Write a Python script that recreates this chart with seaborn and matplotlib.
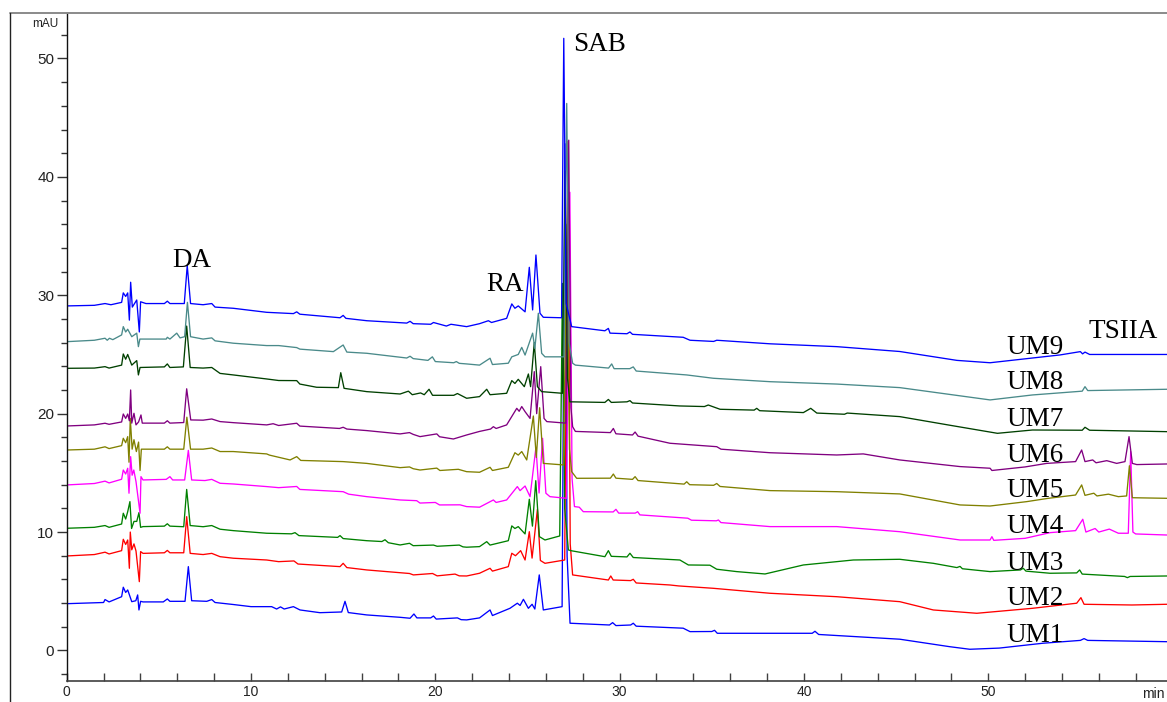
import matplotlib
matplotlib.use("Agg")
import matplotlib.pyplot as plt
from matplotlib import font_manager
from matplotlib.lines import Line2D
from matplotlib.ticker import MultipleLocator
import pandas as pd
import seaborn as sns

# HPLC chromatograms (time in min, absorbance in mAU), one list of (t, mAU) per sample
um9_trace = [(0.0, 29.1), (1.5, 29.15), (2.08, 29.3), (2.4, 29.2), (2.98, 29.4), (3.07, 30.2), (3.2, 29.9),
             (3.31, 30.2), (3.40, 27.9), (3.47, 31.1), (3.56, 29.0), (3.80, 29.6), (3.94, 26.9), (4.01, 29.45),
             (4.3, 29.3), (5.3, 29.3), (5.46, 29.5), (5.6, 29.3), (6.38, 29.3), (6.54, 32.5), (6.72, 29.3),
             (7.4, 29.2), (7.87, 29.3), (8.05, 29.0), (9.04, 28.9), (10.85, 28.56), (12.3, 28.45), (12.48, 28.6),
             (12.65, 28.4), (14.83, 28.1), (15.0, 28.3), (15.15, 28.05), (16.28, 27.85), (18.45, 27.65),
             (18.63, 27.8), (18.8, 27.6), (19.75, 27.55), (19.9, 27.7), (20.6, 27.4), (20.85, 27.55), (21.7, 27.35),
             (22.4, 27.6), (22.88, 27.85), (23.05, 27.7), (23.87, 28.05), (24.15, 29.27), (24.32, 28.9),
             (24.5, 29.1), (24.87, 28.6), (25.1, 32.36), (25.28, 28.76), (25.46, 33.4), (25.68, 28.48),
             (25.86, 28.14), (26.85, 28.1), (26.97, 51.7), (27.1, 29.3), (27.4, 27.35), (29.2, 27.0),
             (29.39, 27.2), (29.48, 26.8), (30.4, 26.75), (30.56, 26.9), (30.7, 26.7), (33.45, 26.45),
             (33.82, 26.2), (35.1, 26.1), (35.27, 26.2), (38.16, 25.9), (41.78, 25.66), (45.2, 25.25),
             (48.3, 24.5), (50.1, 24.3), (52.4, 24.7), (53.9, 24.96), (55.0, 25.24), (55.12, 25.05),
             (55.25, 25.2), (55.5, 25.0), (59.7, 25.0)]

um8_trace = [(0.0, 26.08), (1.5, 26.2), (2.08, 26.37), (2.2, 26.2), (2.32, 26.37), (2.5, 26.25), (2.98, 26.65),
             (3.07, 27.35), (3.2, 26.9), (3.31, 27.13), (3.53, 26.5), (3.8, 26.8), (3.89, 25.66), (3.97, 26.3),
             (5.4, 26.3), (5.46, 26.45), (5.6, 26.3), (5.97, 26.8), (6.15, 26.4), (6.4, 26.5), (6.55, 29.4),
             (6.72, 26.5), (7.4, 26.3), (7.87, 26.4), (8.05, 26.15), (9.04, 25.95), (10.85, 25.75), (11.5, 25.75),
             (12.48, 25.58), (12.65, 25.45), (14.47, 25.24), (15.0, 25.8), (15.2, 25.2), (16.28, 25.1),
             (18.45, 24.7), (18.63, 24.85), (18.8, 24.65), (19.6, 24.5), (19.84, 24.8), (20.0, 24.4),
             (21.0, 24.3), (21.14, 24.4), (21.3, 24.25), (21.7, 24.2), (22.4, 24.1), (22.97, 24.68),
             (23.1, 24.15), (23.96, 24.26), (24.15, 24.8), (24.5, 25.0), (24.69, 25.6), (24.87, 24.95),
             (25.28, 26.8), (25.4, 25.5), (25.59, 28.48), (25.77, 25.1), (25.95, 24.8), (26.98, 24.8),
             (27.13, 46.2), (27.26, 26.0), (27.45, 24.26), (27.6, 24.1), (29.4, 23.85), (29.57, 24.2),
             (29.7, 23.8), (30.55, 23.8), (30.74, 23.95), (30.9, 23.6), (33.64, 23.27), (35.08, 22.99),
             (38.16, 22.7), (41.78, 22.5), (45.2, 22.2), (50.1, 21.16), (52.4, 21.58), (55.1, 21.9),
             (55.25, 22.28), (55.4, 21.95), (59.7, 22.06)]

um7_trace = [(0.0, 23.83), (1.5, 23.85), (2.08, 23.97), (2.3, 23.85), (2.98, 24.1), (3.07, 25.04), (3.2, 24.6),
             (3.31, 25.0), (3.53, 24.1), (3.8, 24.48), (3.89, 23.27), (3.98, 23.9), (5.3, 23.95), (5.46, 24.2),
             (5.6, 23.9), (6.33, 23.95), (6.51, 27.4), (6.7, 23.9), (7.4, 23.85), (7.87, 23.9), (8.32, 23.4),
             (9.04, 23.27), (10.85, 22.93), (11.5, 22.8), (12.48, 22.79), (12.65, 22.5), (13.56, 22.23),
             (14.74, 22.2), (14.87, 23.46), (15.05, 22.14), (16.28, 21.86), (18.09, 21.66), (18.54, 21.9),
             (18.75, 21.6), (19.2, 21.75), (19.4, 21.6), (19.66, 22.06), (19.85, 21.55), (21.0, 21.55),
             (21.2, 21.7), (21.7, 21.3), (22.4, 21.44), (22.79, 22.06), (22.97, 21.6), (23.87, 21.72),
             (24.15, 22.79), (24.32, 22.55), (24.5, 22.9), (24.83, 22.28), (25.05, 23.35), (25.17, 22.28),
             (25.37, 26.0), (25.54, 22.28), (25.77, 21.86), (26.9, 21.72), (27.05, 40.5), (27.17, 23.0),
             (27.3, 21.0), (29.2, 20.95), (29.39, 21.2), (29.55, 20.95), (30.4, 21.0), (30.56, 21.1),
             (30.7, 20.9), (33.27, 20.65), (34.6, 20.6), (34.81, 20.73), (35.45, 20.37), (37.3, 20.3),
             (37.44, 20.45), (37.6, 20.25), (39.97, 20.09), (40.37, 20.45), (40.7, 20.05), (42.2, 19.95),
             (42.35, 20.05), (45.2, 19.75), (48.0, 19.0), (50.5, 18.34), (52.4, 18.62), (55.1, 18.6),
             (55.25, 18.85), (55.5, 18.6), (59.7, 18.48)]

um6_trace = [(0.0, 18.96), (1.5, 19.05), (2.08, 19.19), (2.3, 19.1), (2.98, 19.3), (3.07, 19.97), (3.2, 19.6),
             (3.31, 19.97), (3.40, 19.4), (3.47, 22.0), (3.53, 19.2), (3.65, 20.03), (3.76, 19.05), (3.9, 19.3),
             (4.03, 19.89), (4.1, 19.2), (5.3, 19.2), (5.46, 19.4), (5.6, 19.2), (6.35, 19.25), (6.51, 22.1),
             (6.73, 19.47), (7.4, 19.45), (7.87, 19.55), (8.32, 19.33), (9.04, 19.24), (10.85, 19.05),
             (11.2, 19.15), (11.5, 19.0), (12.48, 19.19), (12.65, 18.95), (14.8, 18.75), (15.0, 18.85),
             (15.2, 18.7), (16.28, 18.57), (18.09, 18.29), (18.6, 18.4), (18.8, 18.25), (19.17, 18.06),
             (20.08, 18.29), (20.23, 18.05), (20.98, 17.86), (21.7, 18.2), (22.4, 18.5), (23.0, 18.7),
             (23.15, 18.9), (23.3, 18.75), (23.87, 19.05), (24.42, 20.45), (24.55, 20.2), (24.69, 20.6),
             (24.87, 20.17), (25.14, 19.6), (25.37, 23.55), (25.5, 20.0), (25.72, 23.97), (25.9, 19.6),
             (26.05, 19.33), (27.08, 19.2), (27.24, 43.1), (27.36, 20.5), (27.45, 18.9), (27.6, 18.5),
             (29.5, 18.4), (29.66, 18.75), (29.8, 18.3), (30.7, 18.2), (30.84, 18.45), (31.0, 18.1),
             (32.73, 17.5), (35.27, 17.21), (35.5, 17.0), (38.16, 16.7), (41.78, 16.51), (43.22, 16.6),
             (45.2, 16.09), (48.47, 15.53), (50.1, 15.39), (50.2, 15.2), (52.0, 15.5), (53.17, 15.8),
             (54.74, 15.95), (55.07, 16.93), (55.25, 15.95), (55.67, 16.09), (55.85, 15.85), (56.43, 16.03),
             (56.97, 15.8), (57.42, 15.95), (57.64, 18.06), (57.82, 15.8), (58.06, 15.7), (59.7, 15.75)]

um5_trace = [(0.0, 16.93), (1.5, 17.0), (2.08, 17.2), (2.3, 17.05), (2.98, 17.3), (3.07, 17.92), (3.2, 17.55),
             (3.31, 18.06), (3.38, 15.9), (3.45, 19.6), (3.55, 17.0), (3.65, 17.8), (3.78, 16.8), (3.9, 17.6),
             (3.98, 15.2), (4.05, 17.0), (5.3, 17.0), (5.46, 17.2), (5.6, 17.0), (6.35, 17.0), (6.52, 19.7),
             (6.72, 17.0), (7.4, 17.0), (7.87, 17.1), (8.32, 16.8), (9.04, 16.8), (10.85, 16.6), (11.0, 16.5),
             (12.12, 16.09), (12.48, 16.37), (12.7, 16.05), (15.0, 15.95), (16.28, 15.8), (18.09, 15.44),
             (18.6, 15.5), (18.8, 15.35), (19.17, 15.24), (20.08, 15.4), (20.25, 15.2), (21.25, 15.3),
             (21.7, 15.1), (22.4, 15.05), (22.97, 15.47), (23.1, 15.2), (23.96, 15.47), (24.32, 16.7),
             (24.5, 16.5), (24.69, 16.8), (24.96, 16.09), (25.32, 19.8), (25.48, 16.3), (25.66, 20.5),
             (25.86, 15.8), (26.95, 15.67), (27.15, 36.0), (27.28, 17.0), (27.4, 15.1), (27.67, 14.54),
             (29.5, 14.55), (29.66, 14.9), (29.8, 14.55), (30.7, 14.45), (30.84, 14.68), (31.0, 14.35),
             (33.5, 14.05), (33.64, 14.25), (33.8, 14.0), (35.1, 13.95), (35.27, 14.1), (35.45, 13.85),
             (38.16, 13.5), (41.78, 13.41), (45.2, 13.22), (48.47, 12.29), (50.1, 12.2), (52.09, 12.57),
             (53.26, 12.85), (54.74, 13.13), (55.07, 13.98), (55.25, 13.1), (55.73, 13.28), (55.9, 13.05),
             (56.52, 13.2), (57.06, 12.99), (57.51, 13.05), (57.66, 15.6), (57.82, 12.9), (59.7, 12.85)]

um4_trace = [(0.0, 13.98), (1.5, 14.1), (2.08, 14.3), (2.3, 14.15), (2.98, 14.46), (3.07, 15.24), (3.2, 14.9),
             (3.31, 15.39), (3.38, 13.28), (3.47, 16.37), (3.55, 14.8), (3.64, 15.24), (3.76, 14.26),
             (3.98, 11.59), (4.03, 14.68), (4.14, 14.4), (5.4, 14.45), (5.6, 14.68), (5.75, 14.4), (6.4, 14.4),
             (6.6, 16.9), (6.78, 14.4), (7.5, 14.35), (7.87, 14.45), (8.32, 14.12), (9.04, 14.06),
             (10.85, 13.84), (11.5, 13.75), (12.48, 13.85), (12.65, 13.6), (15.0, 13.41), (15.3, 13.2),
             (16.28, 12.99), (18.09, 12.71), (18.99, 12.65), (19.17, 12.45), (20.0, 12.5), (20.23, 12.29),
             (21.34, 12.3), (21.7, 12.15), (22.4, 12.1), (23.15, 12.71), (23.3, 12.5), (23.87, 12.71),
             (24.45, 13.84), (24.6, 13.5), (24.87, 13.89), (25.14, 12.99), (25.46, 17.16), (25.63, 13.3),
             (25.82, 17.92), (26.0, 13.28), (26.22, 12.99), (27.12, 12.85), (27.3, 38.7), (27.42, 14.5),
             (27.55, 12.15), (27.81, 12.1), (28.03, 11.72), (29.65, 11.7), (29.8, 11.92), (29.95, 11.6),
             (30.85, 11.6), (30.98, 11.72), (31.1, 11.45), (33.7, 11.17), (33.9, 11.0), (35.25, 10.95),
             (35.36, 11.02), (35.5, 10.8), (38.16, 10.46), (41.78, 10.46), (45.2, 10.03), (48.47, 9.33),
             (50.1, 9.33), (50.2, 9.61), (50.3, 9.3), (52.0, 9.47), (53.35, 9.95), (54.74, 10.12),
             (55.13, 11.08), (55.3, 10.0), (55.8, 10.3), (56.0, 10.0), (56.57, 10.25), (57.06, 9.9),
             (57.6, 9.9), (57.73, 16.8), (57.85, 10.0), (58.0, 9.84), (59.7, 9.75)]

um3_trace = [(0.0, 10.32), (1.5, 10.4), (2.08, 10.55), (2.3, 10.4), (2.98, 10.68), (3.07, 11.59), (3.2, 11.1),
             (3.31, 11.72), (3.43, 12.57), (3.52, 10.3), (3.65, 10.9), (3.8, 10.9), (3.92, 11.64), (4.01, 10.4),
             (4.14, 10.46), (5.3, 10.5), (5.46, 10.7), (5.6, 10.5), (6.35, 10.45), (6.51, 13.6), (6.7, 10.55),
             (7.4, 10.45), (7.87, 10.55), (8.32, 10.24), (9.04, 10.12), (10.85, 9.9), (12.2, 9.85),
             (12.39, 9.95), (12.6, 9.7), (14.7, 9.55), (14.83, 9.7), (15.0, 9.45), (16.28, 9.27), (17.1, 9.2),
             (17.27, 9.35), (17.45, 9.1), (18.09, 8.91), (18.6, 9.05), (18.8, 8.85), (19.9, 8.9), (20.1, 8.8),
             (21.3, 8.9), (21.5, 8.75), (21.7, 8.72), (22.4, 8.77), (22.79, 9.19), (22.97, 8.9), (23.96, 9.27),
             (24.15, 10.52), (24.32, 10.3), (24.5, 10.46), (24.87, 9.84), (25.1, 12.77), (25.27, 10.5),
             (25.45, 14.34), (25.65, 9.61), (25.95, 9.33), (26.75, 9.67), (26.9, 31.0), (27.02, 12.0),
             (27.22, 8.49), (27.35, 8.43), (29.2, 7.92), (29.39, 8.43), (29.55, 7.95), (30.4, 7.9),
             (30.56, 8.21), (30.74, 7.85), (33.27, 7.64), (33.73, 7.22), (34.9, 7.2), (35.27, 6.86),
             (36.35, 6.66), (37.89, 6.46), (39.97, 7.22), (42.68, 7.64), (45.2, 7.7), (47.02, 7.36),
             (48.3, 7.0), (48.47, 7.1), (48.6, 6.9), (50.1, 6.66), (51.75, 6.8), (51.9, 6.94), (52.05, 6.7),
             (53.35, 6.52), (54.8, 6.55), (54.96, 6.8), (55.1, 6.45), (57.4, 6.25), (57.55, 6.15), (57.7, 6.25),
             (59.7, 6.29)]

um2_trace = [(0.0, 7.98), (1.5, 8.1), (2.08, 8.3), (2.3, 8.15), (2.98, 8.43), (3.07, 9.39), (3.2, 8.95),
             (3.31, 9.33), (3.40, 6.94), (3.45, 10.0), (3.53, 8.5), (3.65, 9.0), (3.76, 8.4), (3.94, 5.81),
             (4.01, 8.35), (4.14, 8.2), (5.3, 8.25), (5.46, 8.45), (5.6, 8.25), (6.35, 8.25), (6.51, 11.3),
             (6.7, 8.2), (7.4, 8.1), (7.87, 8.2), (8.32, 7.92), (9.04, 7.79), (10.85, 7.64), (11.5, 7.5),
             (12.33, 7.56), (12.55, 7.3), (14.83, 7.08), (15.0, 7.36), (15.2, 7.0), (16.28, 6.8), (18.6, 6.5),
             (18.81, 6.38), (19.85, 6.5), (20.1, 6.3), (21.07, 6.45), (21.3, 6.3), (21.7, 6.29), (22.4, 6.52),
             (22.97, 6.94), (23.1, 6.7), (23.96, 7.08), (24.15, 8.21), (24.35, 8.0), (24.63, 8.43),
             (24.87, 7.64), (25.1, 10.03), (25.25, 7.8), (25.54, 11.92), (25.7, 7.6), (25.95, 7.36),
             (27.02, 7.64), (27.2, 43.0), (27.32, 9.0), (27.45, 6.38), (29.39, 5.95), (29.52, 6.29),
             (29.65, 5.95), (30.6, 5.9), (30.74, 6.01), (30.9, 5.7), (32.73, 5.53), (33.2, 5.45),
             (35.08, 5.25), (38.16, 4.83), (41.78, 4.54), (45.2, 4.12), (47.02, 3.42), (49.38, 3.14),
             (52.4, 3.56), (54.8, 3.99), (55.03, 4.46), (55.2, 3.9), (57.8, 3.84), (59.7, 3.9)]

um1_trace = [(0.0, 3.95), (2.0, 4.05), (2.08, 4.3), (2.3, 4.1), (2.98, 4.54), (3.07, 5.34), (3.2, 4.9),
             (3.31, 5.11), (3.53, 4.12), (3.75, 4.2), (3.85, 4.69), (3.92, 3.42), (4.01, 4.15), (4.14, 4.1),
             (5.24, 4.1), (5.46, 4.35), (5.6, 4.15), (6.42, 4.15), (6.6, 7.08), (6.78, 4.2), (7.6, 4.15),
             (7.87, 4.3), (8.05, 4.05), (9.04, 3.88), (10.0, 3.7), (11.12, 3.7), (11.39, 3.5), (11.6, 3.68),
             (11.8, 3.5), (12.3, 3.7), (12.66, 3.42), (13.74, 3.19), (14.92, 3.25), (15.1, 4.15), (15.28, 3.2),
             (16.28, 3.0), (18.09, 2.8), (18.63, 2.72), (18.84, 3.08), (19.0, 2.75), (19.75, 2.75),
             (19.9, 2.91), (20.05, 2.65), (21.2, 2.75), (21.4, 2.6), (21.7, 2.58), (22.4, 2.75), (22.97, 3.42),
             (23.1, 2.95), (24.05, 3.56), (24.45, 3.99), (24.6, 3.8), (24.78, 4.32), (25.05, 3.56),
             (25.25, 3.9), (25.4, 3.5), (25.64, 6.38), (25.86, 3.42), (26.88, 3.7), (27.03, 42.8),
             (27.15, 8.0), (27.31, 2.3), (29.45, 2.15), (29.62, 2.35), (29.8, 2.1), (30.6, 2.15),
             (30.74, 2.3), (30.9, 2.05), (33.45, 1.88), (33.82, 1.59), (35.0, 1.6), (35.15, 1.7),
             (35.3, 1.45), (38.16, 1.45), (40.45, 1.45), (40.6, 1.62), (40.8, 1.35), (45.2, 0.95),
             (47.9, 0.32), (49.0, 0.1), (50.6, 0.2), (52.97, 0.61), (55.0, 0.85), (55.2, 1.0), (55.4, 0.85),
             (59.7, 0.74)]

samples = ["UM1", "UM2", "UM3", "UM4", "UM5", "UM6", "UM7", "UM8", "UM9"]
traces = {"UM1": um1_trace, "UM2": um2_trace, "UM3": um3_trace, "UM4": um4_trace, "UM5": um5_trace,
          "UM6": um6_trace, "UM7": um7_trace, "UM8": um8_trace, "UM9": um9_trace}
trace_colors = {"UM1": "#0000ff", "UM2": "#ff0000", "UM3": "#008000", "UM4": "#ff00ff", "UM5": "#808000",
                "UM6": "#800080", "UM7": "#004000", "UM8": "#4a8a8a", "UM9": "#0000ff"}

# sample labels at the right end of each trace: mAU baseline of the text
sample_label_pos = {"UM9": 25.02, "UM8": 22.06, "UM7": 18.96, "UM6": 15.95, "UM5": 12.99,
                    "UM4": 9.9, "UM3": 6.8, "UM2": 3.84, "UM1": 0.74}
sample_label_time = 50.97

# compound peak labels: name -> (time, mAU)
peak_labels = {"DA": (5.75, 32.42), "RA": (22.79, 30.39), "SAB": (27.49, 50.66), "TSIIA": (55.43, 26.37)}

rows = [(name, t, v) for name in samples for t, v in traces[name]]
df = pd.DataFrame(rows, columns=["sample", "time", "mAU"])

sns.set_style("ticks")
available = {f.name for f in font_manager.fontManager.ttflist}
axis_font = "Liberation Sans Narrow" if "Liberation Sans Narrow" in available else "Liberation Sans"
plt.rcParams["font.family"] = [axis_font, "DejaVu Sans"]

W, H = 1167, 702
fig = plt.figure(figsize=(W / 100, H / 100), dpi=100)
fig.patch.set_facecolor("white")

x0, x1, ytop, ybot = 66.7, 1167.0, 13.0, 681.0
ax = fig.add_axes([x0 / W, (H - ybot) / H, (x1 - x0) / W, (ybot - ytop) / H])
ax.set_facecolor("white")

sns.lineplot(data=df, x="time", y="mAU", hue="sample", hue_order=samples, palette=trace_colors,
             estimator=None, sort=False, linewidth=0.95, legend=False, ax=ax)

ax.set_xlim(0, 59.70)
ax.set_ylim(-2.58, 53.84)
ax.set_xlabel("")
ax.set_ylabel("")

ax.xaxis.set_major_locator(MultipleLocator(10))
ax.xaxis.set_minor_locator(MultipleLocator(2))
ax.yaxis.set_major_locator(MultipleLocator(10))
ax.yaxis.set_minor_locator(MultipleLocator(2))

ax.tick_params(axis="x", which="both", direction="in", length=6, width=1.0, color="#404040",
               labelsize=10, pad=3.2, labelcolor="#222222")
ax.tick_params(axis="y", which="major", direction="out", length=7, width=1.0, color="#333333",
               labelsize=11, pad=2, labelcolor="#222222")
ax.tick_params(axis="y", which="minor", direction="out", length=4, width=1.0, color="#333333")

ax.spines["right"].set_visible(False)
ax.spines["left"].set_color("#111111")
ax.spines["left"].set_linewidth(1.0)
ax.spines["bottom"].set_color("#404040")
ax.spines["bottom"].set_linewidth(1.2)
ax.spines["top"].set_color("#8a8a8a")
ax.spines["top"].set_linewidth(1.4)

# outer panel frame
fx = 9.5 / W
fy = 1 - ytop / H
fig.add_artist(Line2D([fx, x0 / W], [fy, fy], color="#8a8a8a", linewidth=1.4))
fig.add_artist(Line2D([fx, fx], [0, fy], color="#222222", linewidth=1.0))

fig.text(45 / W, 1 - 27 / H, "mAU", fontsize=8.5, ha="center", va="baseline", color="#222222")
fig.text(1165 / W, 1 - 698 / H, "min", fontsize=10, ha="right", va="baseline", color="#222222")

serif = ["Liberation Serif", "DejaVu Serif"]
for name, (t, v) in peak_labels.items():
    ax.text(t, v, name, family=serif, fontsize=19.5, ha="left", va="baseline", color="black")
for name, v in sample_label_pos.items():
    ax.text(sample_label_time, v, name, family=serif, fontsize=19.5, ha="left", va="baseline", color="black")

fig.savefig("out.png", dpi=100)
